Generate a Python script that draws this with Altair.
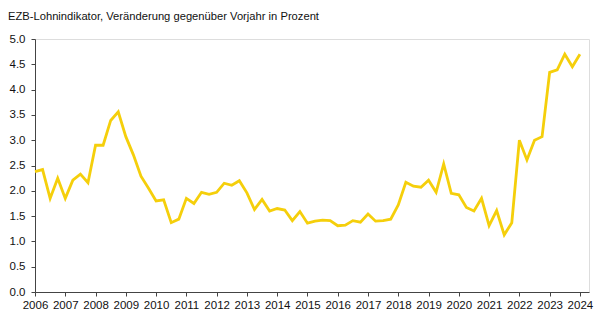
import altair as alt
import pandas as pd

years = list(range(2006, 2025))
quarter_values = {
    2006: [2.38, 2.42, 1.85, 2.25],
    2007: [1.85, 2.21, 2.33, 2.16],
    2008: [2.90, 2.90, 3.39, 3.56],
    2009: [3.07, 2.71, 2.29, 2.05],
    2010: [1.80, 1.82, 1.37, 1.44],
    2011: [1.85, 1.75, 1.97, 1.93],
    2012: [1.97, 2.15, 2.11, 2.20],
    2013: [1.96, 1.63, 1.83, 1.60],
    2014: [1.65, 1.62, 1.41, 1.59],
    2015: [1.36, 1.40, 1.42, 1.41],
    2016: [1.31, 1.32, 1.41, 1.38],
    2017: [1.54, 1.40, 1.41, 1.44],
    2018: [1.72, 2.17, 2.09, 2.07],
    2019: [2.21, 1.97, 2.53, 1.95],
    2020: [1.92, 1.67, 1.60, 1.85],
    2021: [1.31, 1.61, 1.13, 1.37],
    2022: [3.00, 2.61, 3.00, 3.07],
    2023: [4.34, 4.39, 4.70, 4.45],
    2024: [4.70],
}
y_ticks = [0.0, 0.5, 1.0, 1.5, 2.0, 2.5, 3.0, 3.5, 4.0, 4.5, 5.0]
title_text = "EZB-Lohnindikator, Veränderung gegenüber Vorjahr in Prozent"

rows = []
for yr in years:
    for qi, v in enumerate(quarter_values[yr]):
        rows.append({"t": yr + qi / 4.0, "label": f"{yr}Q{qi+1}", "wert": v})
df = pd.DataFrame(rows)

FONT = "Liberation Sans"

line = (
    alt.Chart(df)
    .mark_line(color="#F5CF0B", strokeWidth=2.8)
    .encode(
        x=alt.X(
            "t:Q",
            scale=alt.Scale(domain=[2006, 2024.3], nice=False, zero=False),
            axis=alt.Axis(
                values=years, format="d", title=None, grid=False,
                tickSize=4, labelPadding=3, labelFontSize=11.5,
                labelFont=FONT, labelColor="#111", domainColor="#444",
                tickColor="#444", labelFlush=False, labelOverlap=False,
            ),
        ),
        y=alt.Y(
            "wert:Q",
            scale=alt.Scale(domain=[0, 5], nice=False),
            axis=alt.Axis(
                values=y_ticks, format=".1f", title=None, grid=False,
                tickSize=4, labelPadding=6, labelFontSize=11.5,
                labelFont=FONT, labelColor="#111", domainColor="#444",
                tickColor="#444",
            ),
        ),
    )
)

title = (
    alt.Chart(pd.DataFrame({"txt": [title_text]}))
    .mark_text(align="left", baseline="alphabetic", fontSize=11.2, font=FONT,
               color="#111")
    .encode(text="txt:N", x=alt.value(-27), y=alt.value(-19))
)

chart = (
    alt.layer(line, title)
    .properties(
        width=554,
        height=253,
        autosize=alt.AutoSizeParams(type="none"),
        padding={"left": 35, "top": 39, "right": 16, "bottom": 31},
    )
    .configure_view(stroke=None)
    .configure(background="white")
)

chart.save("out.html", embed_options={"renderer": "svg", "actions": False})
